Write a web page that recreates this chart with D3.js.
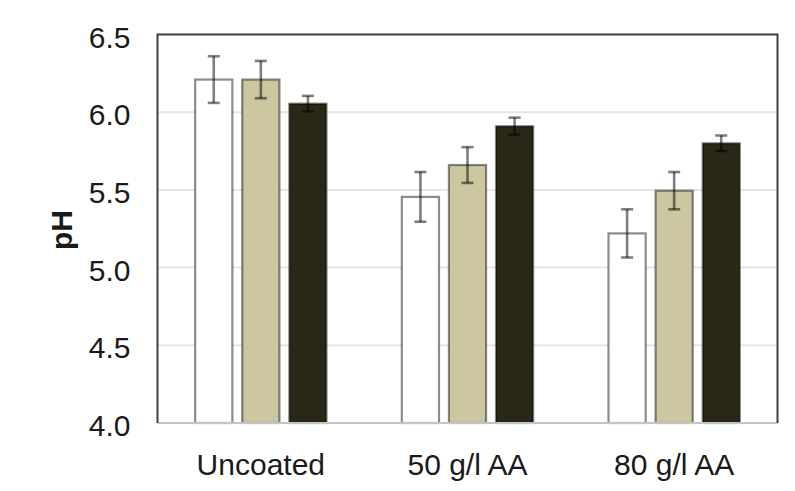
<!DOCTYPE html>
<html>
<head>
<meta charset="utf-8">
<script src="https://cdn.jsdelivr.net/npm/d3@7"></script>
<style>
  body { margin: 0; background: #fff; }
  svg { display: block; font-family: "Liberation Sans", Arial, sans-serif; }
</style>
</head>
<body>
<div id="chart"></div>
<script>
const categories = ["Uncoated", "50 g/l AA", "80 g/l AA"];
const series = ["Series 1", "Series 2", "Series 3"];
const means1 = [6.21, 5.455, 5.22];
const means2 = [6.21, 5.66, 5.495];
const means3 = [6.055, 5.91, 5.80];
const errs1 = [0.15, 0.16, 0.155];
const errs2 = [0.12, 0.115, 0.12];
const errs3 = [0.05, 0.055, 0.05];
const yTicks = [4.0, 4.5, 5.0, 5.5, 6.0, 6.5];

const colors = ["#ffffff", "#ccc6a1", "#2a2717"];
const meansBySeries = [means1, means2, means3];
const errsBySeries = [errs1, errs2, errs3];

const width = 795, height = 491;
const margin = { top: 34.5, right: 17.5, bottom: 68, left: 157.5 };
const innerW = width - margin.left - margin.right;
const innerH = height - margin.top - margin.bottom;
const fontSize = 30;

const svg = d3.select("#chart")
    .append("svg")
    .attr("width", width)
    .attr("height", height);

const chart = svg.append("g")
    .attr("transform", "translate(" + margin.left + "," + margin.top + ")");

const x0 = d3.scaleBand()
    .domain(categories)
    .range([0, innerW])
    .padding(0);

const x1 = d3.scaleBand()
    .domain(series)
    .range([0, x0.bandwidth()])
    .paddingInner(0.21)
    .paddingOuter(0.8);

const y = d3.scaleLinear()
    .domain([4.0, 6.5])
    .range([innerH, 0]);

// gridlines
chart.append("g")
    .selectAll("line")
    .data(yTicks.slice(1, -1))
    .join("line")
        .attr("x1", 0)
        .attr("x2", innerW)
        .attr("y1", d => y(d))
        .attr("y2", d => y(d))
        .attr("stroke", "#e6e6e6")
        .attr("stroke-width", 2);

// flatten data
const rows = [];
categories.forEach((c, i) => {
    series.forEach((s, j) => {
        rows.push({ cat: c, ser: s, j: j, value: meansBySeries[j][i], err: errsBySeries[j][i] });
    });
});

chart.append("g")
    .selectAll("rect")
    .data(rows)
    .join("rect")
        .attr("x", d => x0(d.cat) + x1(d.ser))
        .attr("y", d => y(d.value))
        .attr("width", x1.bandwidth())
        .attr("height", d => innerH - y(d.value))
        .attr("fill", d => colors[d.j])
        .attr("stroke", "rgba(0,0,0,0.45)")
        .attr("stroke-width", 2.2);

// error bars
const capW = 12;
const eb = chart.append("g")
    .attr("stroke", "rgba(0,0,0,0.5)")
    .attr("stroke-width", 2.6)
    .selectAll("g")
    .data(rows)
    .join("g")
        .attr("transform", d => "translate(" + (x0(d.cat) + x1(d.ser) + x1.bandwidth() / 2) + ",0)");

eb.append("line")
    .attr("y1", d => y(d.value + d.err))
    .attr("y2", d => y(d.value - d.err));
eb.append("line")
    .attr("x1", -capW / 2).attr("x2", capW / 2)
    .attr("y1", d => y(d.value + d.err))
    .attr("y2", d => y(d.value + d.err));
eb.append("line")
    .attr("x1", -capW / 2).attr("x2", capW / 2)
    .attr("y1", d => y(d.value - d.err))
    .attr("y2", d => y(d.value - d.err));

// frame
chart.append("line")
    .attr("x1", 0).attr("x2", innerW)
    .attr("y1", innerH).attr("y2", innerH)
    .attr("stroke", "#c4c4c4")
    .attr("stroke-width", 2);
chart.append("path")
    .attr("d", `M0,${innerH} V0 H${innerW} V${innerH}`)
    .attr("fill", "none")
    .attr("stroke", "#404040")
    .attr("stroke-width", 2);

// y axis labels
const yAxis = chart.append("g")
    .call(d3.axisLeft(y).tickValues(yTicks).tickFormat(d3.format(".1f")).tickSize(0).tickPadding(27));
yAxis.select(".domain").remove();
yAxis.selectAll("text")
    .attr("dy", "0.42em")
    .attr("font-size", fontSize)
    .attr("fill", "#1a1a1a")
    .attr("font-family", "Liberation Sans, Arial, sans-serif");

// x axis labels
const xAxis = chart.append("g")
    .attr("transform", "translate(0," + innerH + ")")
    .call(d3.axisBottom(x0).tickSize(0).tickPadding(31));
xAxis.select(".domain").remove();
xAxis.selectAll("text")
    .attr("font-size", fontSize)
    .attr("fill", "#1a1a1a")
    .attr("font-family", "Liberation Sans, Arial, sans-serif");

// y title
svg.append("text")
    .attr("transform", "translate(72,230) rotate(-90)")
    .attr("text-anchor", "middle")
    .attr("font-size", fontSize)
    .attr("font-weight", "bold")
    .attr("fill", "#1a1a1a")
    .text("pH");
</script>
</body>
</html>
